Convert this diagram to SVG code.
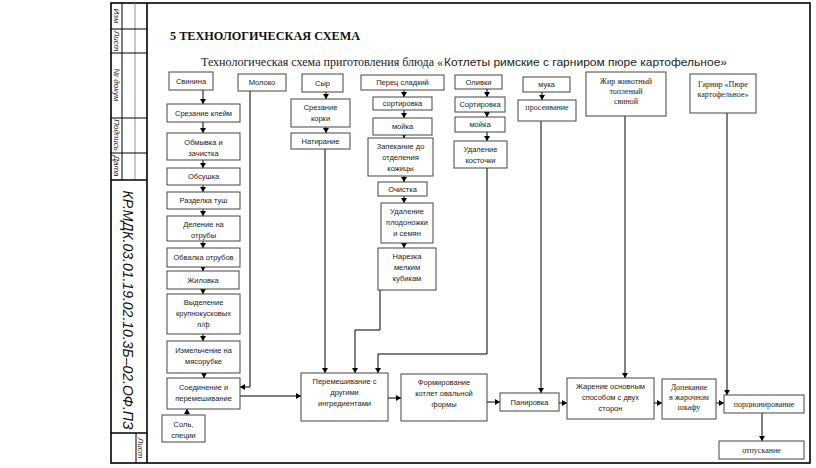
<svg xmlns="http://www.w3.org/2000/svg" width="816" height="468" viewBox="0 0 816 468">
<defs>
<marker id="ah" markerUnits="userSpaceOnUse" markerWidth="6" markerHeight="6" refX="5" refY="3" orient="auto">
<path d="M0,0 L5,3 L0,6 z" fill="#000"/>
</marker>
<style>
.frame{fill:none;stroke:#000;stroke-width:1.6}
.thin{fill:none;stroke:#000;stroke-width:1}
.grey{fill:none;stroke:#777;stroke-width:0.8}
.box{fill:#fff;stroke:#444;stroke-width:1}
.t{font-family:"Liberation Sans",Arial,sans-serif;font-size:7.5px;fill:#222;text-anchor:middle}
.s{font-family:"Liberation Serif","Times New Roman",serif;font-size:8px;fill:#222;text-anchor:middle}
.stamp{font-family:"Liberation Sans",Arial,sans-serif;font-style:italic;font-size:8px;fill:#222;text-anchor:middle}
.code{font-family:"Liberation Sans",Arial,sans-serif;font-style:italic;font-size:14px;fill:#111;text-anchor:middle}
.c{fill:none;stroke:#000;stroke-width:1}
.ca{fill:none;stroke:#000;stroke-width:1;marker-end:url(#ah)}
</style>
</defs>
<rect width="816" height="468" fill="#fff"/>

<g id="frame">
<rect class="frame" x="111" y="3" width="699" height="460"/>
<line class="frame" x1="147" y1="3" x2="147" y2="463"/>
<line class="thin" x1="122" y1="3" x2="122" y2="180"/>
<line class="grey" x1="135" y1="3" x2="135" y2="180"/>
<line class="thin" x1="111" y1="29" x2="147" y2="29"/>
<line class="thin" x1="111" y1="53" x2="147" y2="53"/>
<line class="thin" x1="111" y1="118" x2="147" y2="118"/>
<line class="thin" x1="111" y1="153" x2="147" y2="153"/>
<line class="frame" x1="111" y1="180" x2="147" y2="180"/>
<line class="frame" x1="111" y1="433" x2="147" y2="433"/>
<line class="thin" x1="136" y1="433" x2="136" y2="463"/>
<text class="stamp" transform="translate(114,16) rotate(90)">Изм</text>
<text class="stamp" transform="translate(114,41) rotate(90)">Лист</text>
<text class="stamp" transform="translate(114,85) rotate(90)">№ докум</text>
<text class="stamp" transform="translate(114,135) rotate(90)">Подпись</text>
<text class="stamp" transform="translate(114,166) rotate(90)">Дата</text>
<text class="code" transform="translate(123,310) rotate(90)">КР.МДК.03.01.19.02.10.3Б–02.ОФ.ПЗ</text>
<text class="stamp" transform="translate(138,448) rotate(90)">Лист</text>
</g>

<g id="titles">
<text x="170" y="40" font-family="'Liberation Serif','Times New Roman',serif" font-weight="bold" font-size="12.5" fill="#111" textLength="190" lengthAdjust="spacingAndGlyphs">5 ТЕХНОЛОГИЧЕСКАЯ СХЕМА</text>
<text x="201" y="66" font-family="'Liberation Serif','Times New Roman',serif" font-size="12.5" fill="#222" textLength="242" lengthAdjust="spacingAndGlyphs">Технологическая схема приготовления блюда «</text>
<text x="444" y="66" font-family="'Liberation Sans',Arial,sans-serif" font-size="11.5" fill="#222" textLength="283" lengthAdjust="spacingAndGlyphs">Котлеты римские с гарниром пюре картофельное»</text>
</g>

<g id="connectors">
<path class="ca" d="M203,90 V104"/>
<path class="ca" d="M203,122 V133"/>
<path class="ca" d="M203,160 V168"/>
<path class="ca" d="M203,185 V192"/>
<path class="ca" d="M203,209 V216"/>
<path class="ca" d="M203,241 V248"/>
<path class="ca" d="M203,267 V271"/>
<path class="ca" d="M203,289 V294"/>
<path class="ca" d="M203,334 V341"/>
<path class="ca" d="M204,373 V378"/>
<path class="ca" d="M187,415 V409"/>
<path class="ca" d="M250,91 V387 H240"/>
<path class="ca" d="M240,396 H301"/>
<path class="ca" d="M326,92 V99"/>
<path class="ca" d="M326,127 V133"/>
<path class="ca" d="M325,149 V373"/>
<path class="ca" d="M404,90 V97"/>
<path class="ca" d="M404,110 V118"/>
<path class="ca" d="M404,135 V138"/>
<path class="ca" d="M404,176 V182"/>
<path class="ca" d="M404,196 V203"/>
<path class="ca" d="M404,243 V248"/>
<path class="ca" d="M380,290 V330 H355 V373"/>
<path class="ca" d="M487,89 V97"/>
<path class="ca" d="M487,112 V117"/>
<path class="ca" d="M487,132 V141"/>
<path class="ca" d="M487,168 V354 H378 V373"/>
<path class="ca" d="M542,92 V100"/>
<path class="ca" d="M541,121 V393"/>
<path class="ca" d="M625,116 V378"/>
<path class="ca" d="M727,113 V395"/>
<path class="ca" d="M388,398 H401"/>
<path class="ca" d="M487,402 H500"/>
<path class="ca" d="M559,403 H567"/>
<path class="ca" d="M654,403 H662"/>
<path class="ca" d="M716,403 H724"/>
<path class="ca" d="M762,413 V441"/>
</g>

<g id="n_svinina"><rect class="box" x="169" y="72" width="44" height="18"/><text class="t" x="191" y="84">Свинина</text></g>
<g id="n_srez_kleim"><rect class="box" x="167" y="104" width="73" height="18"/><text class="t" x="203.5" y="116">Срезание клейм</text></g>
<g id="n_obmyvka"><rect class="box" x="167" y="133" width="73" height="27"/><text class="t" x="203.5" y="144.5">Обмывка и</text><text class="t" x="203.5" y="155.5">зачистка</text></g>
<g id="n_obsushka"><rect class="box" x="167" y="168" width="73" height="17"/><text class="t" x="203.5" y="179">Обсушка</text></g>
<g id="n_razdelka"><rect class="box" x="167" y="192" width="73" height="17"/><text class="t" x="203.5" y="203">Разделка туш</text></g>
<g id="n_delenie"><rect class="box" x="167" y="216" width="73" height="25"/><text class="t" x="203.5" y="227">Деление на</text><text class="t" x="203.5" y="238">отрубы</text></g>
<g id="n_obvalka"><rect class="box" x="167" y="248" width="73" height="19"/><text class="t" x="203.5" y="260">Обвалка отрубов</text></g>
<g id="n_zhilovka"><rect class="box" x="167" y="271" width="72" height="18"/><text class="t" x="203" y="282.5">Жиловка</text></g>
<g id="n_vydelenie"><rect class="box" x="167" y="294" width="73" height="40"/><text class="t" x="203.5" y="305">Выделение</text><text class="t" x="203.5" y="316">крупнокусковых</text><text class="t" x="203.5" y="327">п/ф</text></g>
<g id="n_izmelch"><rect class="box" x="167" y="341" width="73" height="32"/><text class="t" x="203.5" y="353">Измельчение на</text><text class="t" x="203.5" y="364">мясорубке</text></g>
<g id="n_soedin"><rect class="box" x="167" y="378" width="73" height="31"/><text class="t" x="203.5" y="389.5">Соединение и</text><text class="t" x="203.5" y="400.5">перемешивание</text></g>
<g id="n_sol"><rect class="box" x="162" y="415" width="43" height="27"/><text class="t" x="183.5" y="426.5">Соль,</text><text class="t" x="183.5" y="437.5">специи</text></g>
<g id="n_moloko"><rect class="box" x="238" y="74" width="48" height="17"/><text class="t" x="262" y="85">Молоко</text></g>

<g id="n_syr"><rect class="box" x="302" y="74" width="41" height="18"/><text class="t" x="322.5" y="85.5">Сыр</text></g>
<g id="n_srez_kork"><rect class="box" x="291" y="99" width="59" height="28"/><text class="t" x="320.5" y="110">Срезание</text><text class="t" x="320.5" y="121">корки</text></g>
<g id="n_natir"><rect class="box" x="291" y="133" width="59" height="16"/><text class="t" x="320.5" y="143.5">Натирание</text></g>

<g id="n_perets"><rect class="box" x="361" y="75" width="83" height="15"/><text class="t" x="402.5" y="85">Перец сладкий</text></g>
<g id="n_sort1"><rect class="box" x="373" y="97" width="59" height="13"/><text class="t" x="402.5" y="106">сортировка</text></g>
<g id="n_moika1"><rect class="box" x="373" y="118" width="59" height="17"/><text class="t" x="402.5" y="129">мойка</text></g>
<g id="n_zapek"><rect class="box" x="368" y="138" width="65" height="38"/><text class="t" x="400.5" y="149">Запекание до</text><text class="t" x="400.5" y="160">отделения</text><text class="t" x="400.5" y="171">кожицы</text></g>
<g id="n_ochistka"><rect class="box" x="378" y="182" width="49" height="14"/><text class="t" x="402.5" y="191.5">Очистка</text></g>
<g id="n_udal_plod"><rect class="box" x="381" y="203" width="52" height="40"/><text class="t" x="407" y="214">Удаление</text><text class="t" x="407" y="225">плодоножки</text><text class="t" x="407" y="236">и семян</text></g>
<g id="n_narezka"><rect class="box" x="378" y="248" width="58" height="42"/><text class="t" x="407" y="259">Нарезка</text><text class="t" x="407" y="270">мелким</text><text class="t" x="407" y="281">кубикам</text></g>

<g id="n_olivki"><rect class="box" x="455" y="75" width="47" height="14"/><text class="t" x="478.5" y="84.5">Оливки</text></g>
<g id="n_sort2"><rect class="box" x="455" y="97" width="50" height="15"/><text class="t" x="480" y="107">Сортировка</text></g>
<g id="n_moika2"><rect class="box" x="455" y="117" width="50" height="15"/><text class="t" x="480" y="127">мойка</text></g>
<g id="n_udal_kost"><rect class="box" x="454" y="141" width="53" height="27"/><text class="t" x="480.5" y="152">Удаление</text><text class="t" x="480.5" y="163">косточки</text></g>

<g id="n_muka"><rect class="box" x="523" y="77" width="47" height="15"/><text class="t" x="546.5" y="87">мука</text></g>
<g id="n_proseiv"><rect class="box" x="518" y="100" width="58" height="21"/><text class="s" x="547" y="110">просеивание</text></g>
<g id="n_zhir"><rect class="box" x="586" y="72" width="80" height="44"/><text class="s" x="626" y="84">Жир животный</text><text class="s" x="626" y="94">топленый</text><text class="s" x="626" y="104">свиной</text></g>
<g id="n_garnir"><rect class="box" x="690" y="74" width="66" height="39"/><text class="s" x="723" y="87">Гарнир «Пюре</text><text class="s" x="723" y="97">картофельное»</text></g>

<g id="n_peremesh"><rect class="box" x="301" y="373" width="87" height="48"/><text class="t" x="344.5" y="384">Перемешивание с</text><text class="t" x="344.5" y="395">другими</text><text class="t" x="344.5" y="406">ингредиентами</text></g>
<g id="n_formir"><rect class="box" x="401" y="374" width="86" height="47"/><text class="t" x="444" y="385">Формирование</text><text class="t" x="444" y="396">котлет овальной</text><text class="t" x="444" y="407">формы</text></g>
<g id="n_panir"><rect class="box" x="500" y="393" width="59" height="18"/><text class="t" x="529.5" y="404.5">Панировка</text></g>
<g id="n_zharenie"><rect class="box" x="567" y="378" width="87" height="41"/><text class="t" x="610.5" y="389">Жарение основным</text><text class="t" x="610.5" y="400">способом с двух</text><text class="t" x="610.5" y="411">сторон</text></g>
<g id="n_dopek"><rect class="box" x="662" y="379" width="54" height="40"/><text class="s" x="689" y="390">Допекание</text><text class="s" x="689" y="400">в жарочном</text><text class="s" x="689" y="410">шкафу</text></g>
<g id="n_porcion"><rect class="box" x="724" y="395" width="80" height="18"/><text class="s" x="764" y="407">порционирование</text></g>
<g id="n_otpusk"><rect class="box" x="719" y="441" width="85" height="18"/><text class="s" x="761.5" y="453">отпускание</text></g>
</svg>
